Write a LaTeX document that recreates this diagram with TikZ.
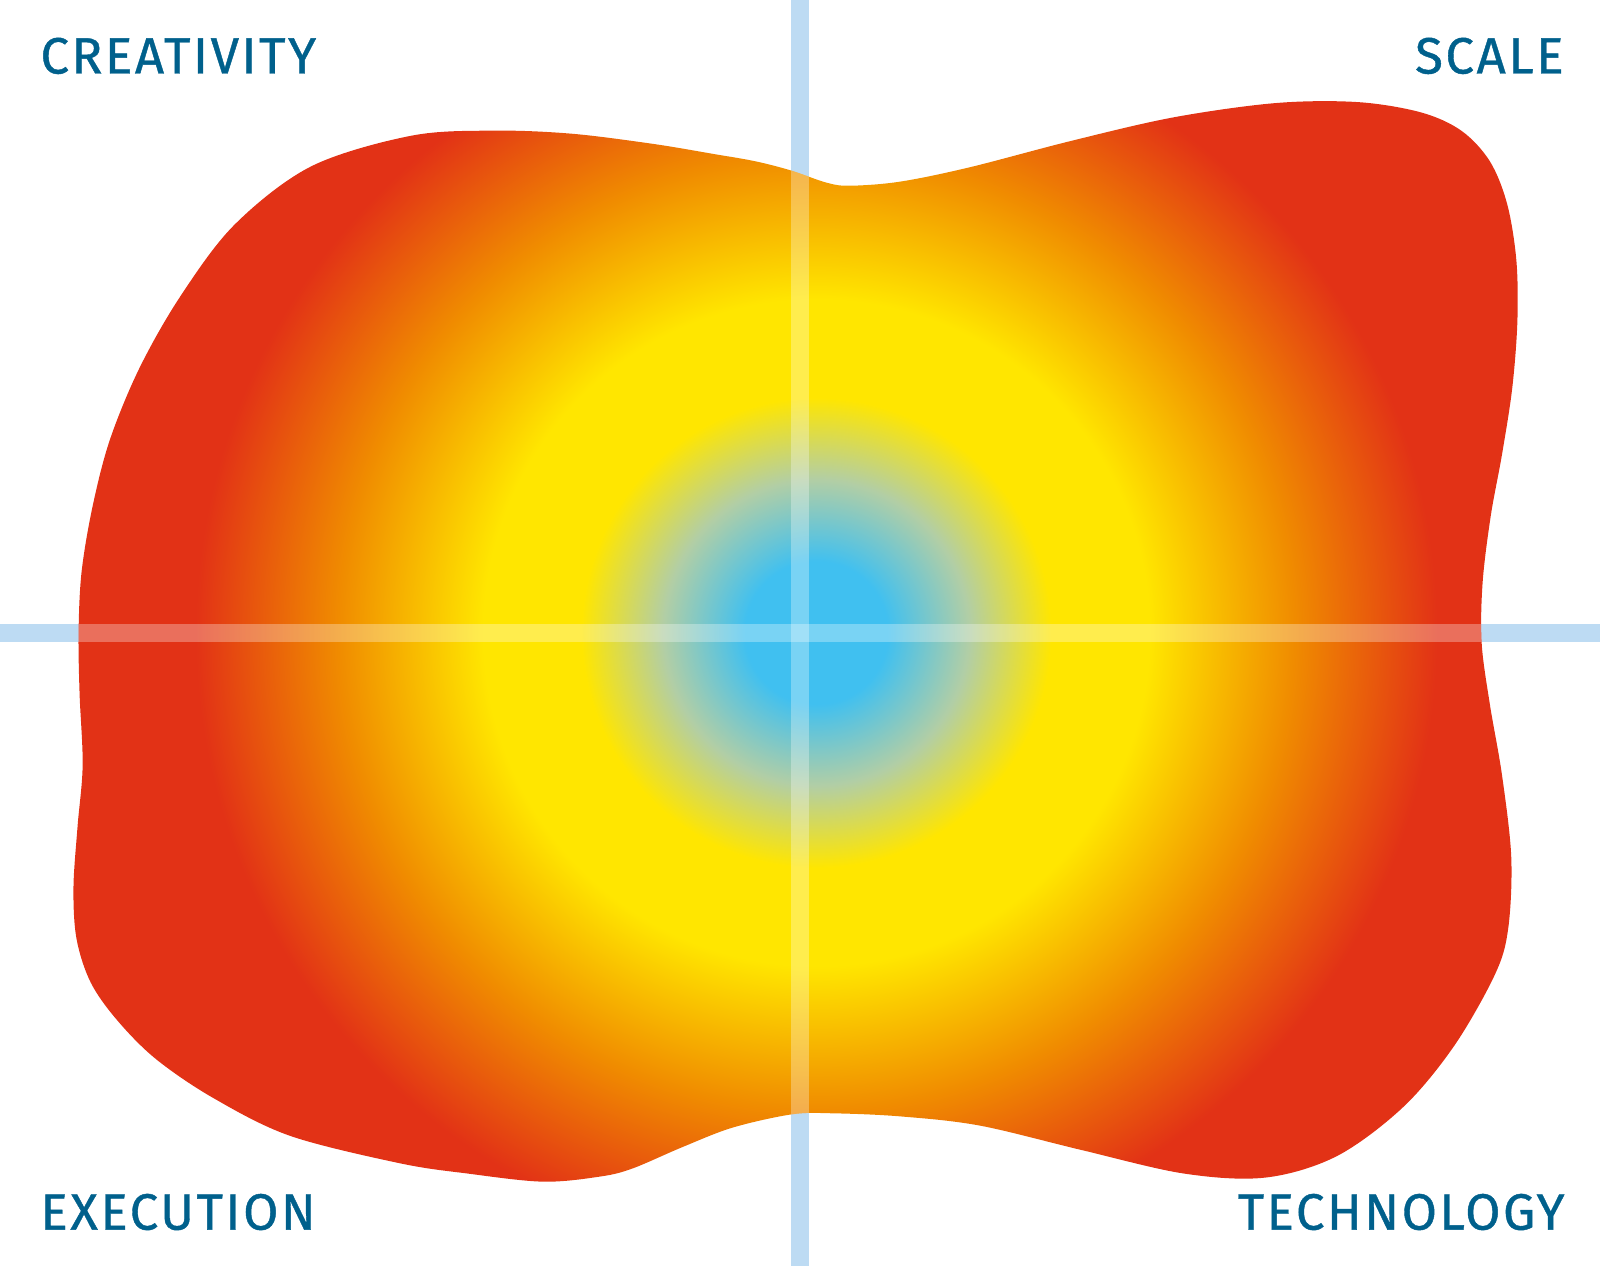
\documentclass[tikz,border=0pt]{standalone}
\usepackage{fontspec}
\setmainfont{Fira Sans}
\newfontfamily\labelfont{Fira Sans}[LetterSpace=5, FakeBold=0.8]

\definecolor{labelblue}{RGB}{0,96,140}
\definecolor{axisblue}{RGB}{189,219,243}
\definecolor{cblue}{RGB}{64,192,240}
\definecolor{cmix}{RGB}{178,206,165}
\definecolor{cyellow}{RGB}{255,230,0}
\definecolor{corange}{RGB}{240,140,0}
\definecolor{cred}{RGB}{226,50,22}

% 25bp = radius of the shaded disc (900 units)
\pgfdeclareradialshading{blobshade}{\pgfpoint{0bp}{0bp}}{color(0bp)=(cblue); color(1.94bp)=(cblue); color(4.17bp)=(cmix); color(6.4bp)=(cyellow); color(9.07bp)=(cyellow); color(12.98bp)=(corange); color(16.9bp)=(cred); color(50bp)=(cred)}

\tikzset{
  quadlabel/.style={text=labelblue, inner sep=0pt, font=\labelfont\fontsize{14.5}{16}\selectfont},
  axisline/.style={line width=0.18cm, draw=axisblue},
}

\newcommand{\blobpath}{plot[smooth cycle, tension=0.55] coordinates {
  (775,167) (810,179) (833,182) (882,178) (950,164) (1050,138)
  (1150,115) (1250,101) (1330,100) (1392,110) (1432,128) (1460,158)
  (1477,200) (1486,255) (1487,315) (1482,380) (1472,445) (1461,505)
  (1453,570) (1452,630) (1460,690) (1472,760) (1481,840) (1478,910)
  (1465,955) (1425,1025) (1375,1085) (1310,1133) (1240,1154) (1160,1150)
  (1060,1127) (960,1103) (882,1094) (816,1091) (776,1092) (718,1105)
  (669,1124) (620,1145) (588,1153) (532,1158) (458,1150) (392,1140)
  (284,1113) (209,1076) (153,1038) (115,1000) (89,963) (75,920)
  (72,870) (76,810) (81,750) (78,680) (77,620) (80,560) (91,495)
  (108,430) (137,360) (177,290) (230,220) (305,163) (403,133)
  (484,128) (560,131) (640,141) (700,151) (740,158)}}

\begin{document}
\begin{tikzpicture}[x=0.0102cm, y=-0.0102cm]
    \useasboundingbox (0,0) rectangle (1568,1241);
    % axes
    \coordinate (top) at (784,0);
    \coordinate (bottom) at (784,1241);
    \coordinate (left) at (0,620);
    \coordinate (right) at (1568,620);
    \coordinate (core) at (800,620);
    \draw [axisline] (top) -- (bottom);
    \draw [axisline] (left) -- (right);
    % shaded blob, axes shine through it
    \begin{scope}
        \clip \blobpath;
        \shade [shading=blobshade] (core) circle (900);
        \draw [axisline, draw=white, opacity=0.3] (top) -- (bottom);
        \draw [axisline, draw=white, opacity=0.3] (left) -- (right);
    \end{scope}
    % corner labels
    \node [quadlabel, anchor=base west] (creativity) at (39,72) {CREATIVITY};
    \node [quadlabel, anchor=base east] (scale) at (1533,72) {SCALE};
    \node [quadlabel, anchor=base west] (execution) at (39,1205) {EXECUTION};
    \node [quadlabel, anchor=base east] (technology) at (1534,1205) {TECHNOLOGY};
\end{tikzpicture}
\end{document}
